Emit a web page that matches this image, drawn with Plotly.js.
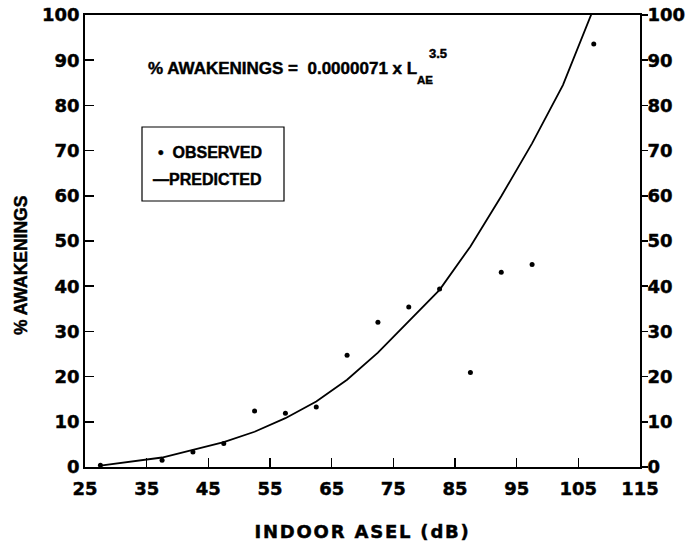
<!DOCTYPE html>
<html>
<head>
<meta charset="utf-8">
<script src="https://cdn.plot.ly/plotly-3.0.1.min.js"></script>
<style>
  html, body { margin: 0; padding: 0; background: #fff; }
  #chart { width: 686px; height: 542px; }
  #chart .xtitle { letter-spacing: 1.8px; }
  #chart text { stroke: #000; stroke-width: 0.45px; }
</style>
</head>
<body>
<div id="chart"></div>
<script>
// Observed data (indoor ASEL dB, % awakenings)
const observedX = [27.5, 37.5, 42.5, 47.5, 52.5, 57.5, 62.5, 67.5, 72.5, 77.5, 82.5, 87.5, 92.5, 97.5, 107.5];
const observedY = [0.4, 1.5, 3.3, 5.2, 12.4, 11.9, 13.3, 24.7, 32.0, 35.4, 39.4, 20.9, 43.1, 44.8, 93.6];

// Predicted curve
const predictedX = [27.5, 37.5, 42.5, 47.5, 52.5, 57.5, 62.5, 67.5, 72.5, 77.5, 82.5, 87.5, 92.5, 97.5, 102.5, 107.5];
const predictedY = [0.3, 2.1, 3.8, 5.5, 7.8, 10.8, 14.5, 19.3, 25.3, 32.2, 39.2, 48.8, 59.9, 71.6, 84.5, 101.5];

// Tick labels
const xTicks = [25, 35, 45, 55, 65, 75, 85, 95, 105, 115];
const yTicks = [0, 10, 20, 30, 40, 50, 60, 70, 80, 90, 100];

const tickFont = { family: 'DejaVu Sans', size: 18, color: '#000', weight: 'bold' };
const boldArial = 'Liberation Sans, Arial, sans-serif';

const traces = [
  {
    x: predictedX, y: predictedY, name: 'PREDICTED', type: 'scatter', mode: 'lines',
    line: { color: '#000', width: 1.8 }, showlegend: false, hoverinfo: 'skip'
  },
  {
    x: observedX, y: observedY, name: 'OBSERVED', type: 'scatter', mode: 'markers',
    marker: { color: '#000', size: 5 }, showlegend: false
  },
  {
    x: [], y: [], yaxis: 'y2', type: 'scatter', mode: 'markers', showlegend: false, hoverinfo: 'skip'
  }
];

const layout = {
  width: 686, height: 542,
  margin: { l: 85, r: 46, t: 15, b: 75 },
  paper_bgcolor: '#fff', plot_bgcolor: '#fff',
  showlegend: false,
  xaxis: {
    range: [25, 115], tickvals: xTicks, ticktext: xTicks.map(String),
    ticks: 'inside', ticklen: 9, tickwidth: 1.5, tickcolor: '#000',
    showline: true, linecolor: '#000', linewidth: 1.8, mirror: true,
    showgrid: false, zeroline: false, tickfont: tickFont, ticklabelstandoff: 5,
    title: { text: 'INDOOR ASEL (dB)', font: { family: 'DejaVu Sans', size: 18, color: '#000', weight: 'bold' }, standoff: 27 }
  },
  yaxis: {
    range: [0, 100], tickvals: yTicks, ticktext: yTicks.map(String),
    ticks: 'inside', ticklen: 9, tickwidth: 1.5, tickcolor: '#000',
    showline: true, linecolor: '#000', linewidth: 1.8, mirror: false,
    showgrid: false, zeroline: false, tickfont: tickFont
  },
  yaxis2: {
    range: [0, 100], tickvals: yTicks, ticktext: yTicks.map(String),
    overlaying: 'y', side: 'right', anchor: 'x',
    ticks: 'outside', ticklen: 6, tickwidth: 1.5, tickcolor: '#000',
    showline: true, linecolor: '#000', linewidth: 1.8, ticklabelstandoff: -4,
    showgrid: false, zeroline: false, tickfont: tickFont
  },
  shapes: [
    { type: 'rect', xref: 'paper', yref: 'paper',
      x0: (142 - 85) / 555, x1: (284 - 85) / 555,
      y0: (467 - 201) / 452, y1: (467 - 127) / 452,
      line: { color: '#000', width: 1.2 }, fillcolor: 'rgba(0,0,0,0)' }
  ],
  annotations: [
    { xref: 'paper', yref: 'paper', x: (21 - 85) / 555, y: (467 - 266) / 452,
      text: '% AWAKENINGS', textangle: -90, showarrow: false,
      xanchor: 'center', yanchor: 'middle',
      font: { family: boldArial, size: 17.5, color: '#000', weight: 'bold' } },
    { xref: 'paper', yref: 'paper', x: (146 - 85) / 555, y: (467 - 69) / 452,
      text: '% AWAKENINGS =\u00a0 0.0000071 x L', showarrow: false,
      xanchor: 'left', yanchor: 'middle',
      font: { family: boldArial, size: 17, color: '#000', weight: 'bold' } },
    { xref: 'paper', yref: 'paper', x: (415 - 85) / 555, y: (467 - 80) / 452,
      text: 'AE', showarrow: false, xanchor: 'left', yanchor: 'middle',
      font: { family: boldArial, size: 11.5, color: '#000', weight: 'bold' } },
    { xref: 'paper', yref: 'paper', x: (427 - 85) / 555, y: (467 - 53) / 452,
      text: '3.5', showarrow: false, xanchor: 'left', yanchor: 'middle',
      font: { family: boldArial, size: 13, color: '#000', weight: 'bold' } },
    { xref: 'paper', yref: 'paper', x: (156 - 85) / 555, y: (467 - 152) / 452,
      text: '•\u00a0 OBSERVED', showarrow: false, xanchor: 'left', yanchor: 'middle',
      font: { family: boldArial, size: 16, color: '#000', weight: 'bold' } },
    { xref: 'paper', yref: 'paper', x: (151 - 85) / 555, y: (467 - 180) / 452,
      text: '—PREDICTED', showarrow: false, xanchor: 'left', yanchor: 'middle',
      font: { family: boldArial, size: 16, color: '#000', weight: 'bold' } }
  ]
};

Plotly.newPlot('chart', traces, layout, { staticPlot: true, displayModeBar: false });
</script>
</body>
</html>
